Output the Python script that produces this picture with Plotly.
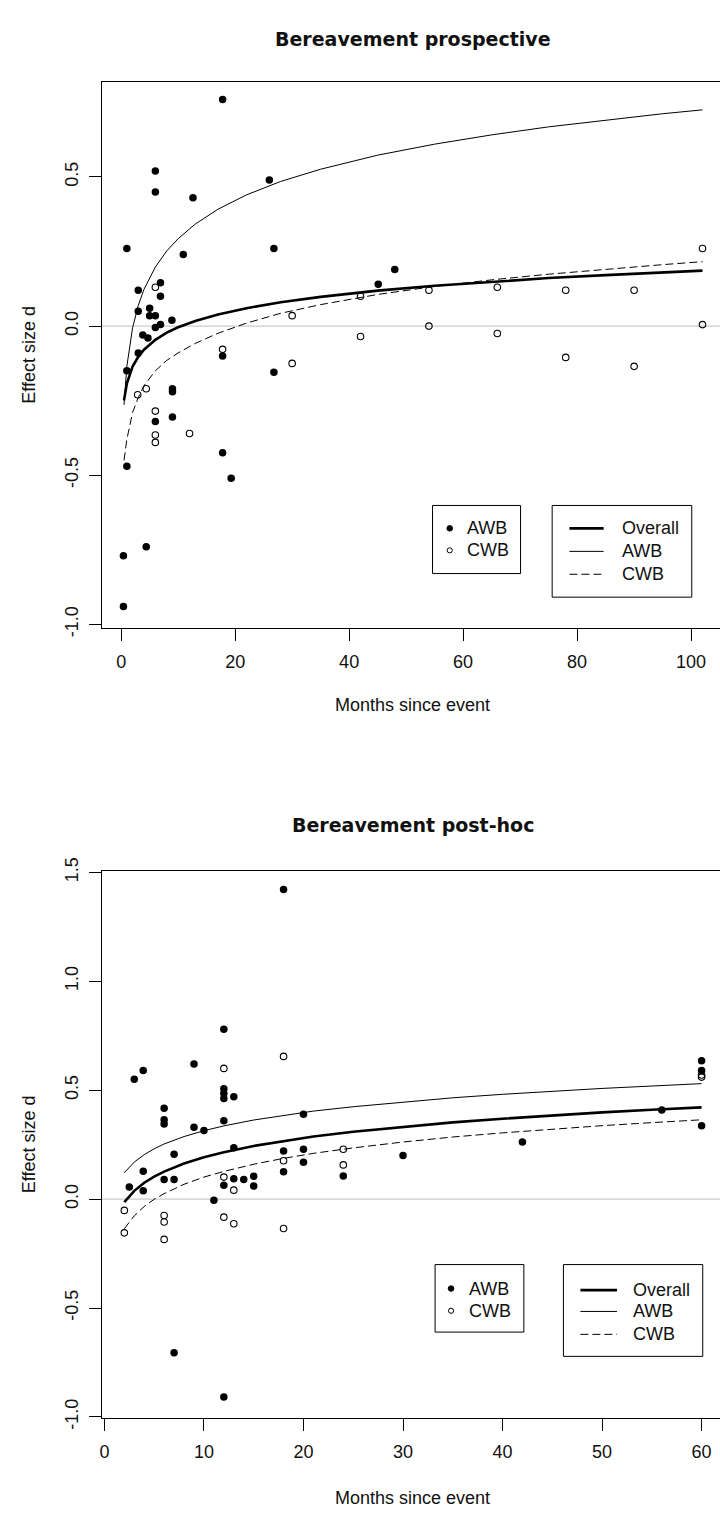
import plotly.graph_objects as go

W, H = 720, 1522

# ---------------- data: panel 1 "Bereavement prospective" ----------------
pro_awb_month = [0.4, 0.4, 1.0, 1.0, 1.0, 3.0, 3.0, 3.0, 3.8, 4.4, 4.7, 5.0, 5.0,
                 6.0, 6.0, 6.0, 6.0, 6.0, 6.9, 6.9, 6.9, 8.9, 9.0, 9.0, 9.0, 10.9,
                 12.6, 17.8, 17.8, 17.8, 19.3, 26.0, 26.8, 26.8, 45.1, 48.0]
pro_awb_d = [-0.77, -0.94, 0.26, -0.15, -0.47, 0.12, 0.05, -0.09, -0.03, -0.74, -0.04, 0.06, 0.035,
             0.52, 0.45, 0.035, -0.005, -0.32, 0.145, 0.10, 0.005, 0.02, -0.21, -0.22, -0.305, 0.24,
             0.43, 0.76, -0.10, -0.425, -0.51, 0.49, 0.26, -0.155, 0.14, 0.19]
pro_cwb_month = [2.9, 4.4, 6.0, 6.0, 6.0, 6.0, 12.0, 17.8, 30, 30, 42, 42, 54, 54,
                 66, 66, 78, 78, 90, 90, 102, 102]
pro_cwb_d = [-0.23, -0.21, 0.13, -0.285, -0.365, -0.39, -0.36, -0.078, 0.035, -0.125, 0.10, -0.035,
             0.12, 0.0, 0.13, -0.025, 0.12, -0.105, 0.12, -0.135, 0.26, 0.005]

pro_fit_month = [0.5, 1, 2, 3, 4, 6, 8, 10, 13, 17, 22, 28, 35, 45, 55, 65, 75, 85, 95, 102]
pro_fit_overall = [-0.249, -0.193, -0.136, -0.103, -0.079, -0.046, -0.022, -0.004, 0.017, 0.039,
                   0.060, 0.080, 0.098, 0.119, 0.135, 0.149, 0.161, 0.171, 0.180, 0.186]
pro_fit_awb = [-0.264, -0.135, -0.006, 0.069, 0.123, 0.198, 0.252, 0.293, 0.342, 0.392,
               0.440, 0.485, 0.526, 0.573, 0.610, 0.641, 0.668, 0.691, 0.712, 0.725]
pro_fit_cwb = [-0.45, -0.38, -0.29, -0.24, -0.20, -0.15, -0.115, -0.09, -0.058, -0.024,
               0.010, 0.043, 0.072, 0.106, 0.133, 0.155, 0.174, 0.191, 0.206, 0.216]

# ---------------- data: panel 2 "Bereavement post-hoc" ----------------
post_awb_month = [2.5, 3, 3.9, 3.9, 3.9, 6, 6, 6, 6, 7, 7, 7, 9, 9, 10, 11,
                  12, 12, 12, 12, 12, 12, 12, 13, 13, 13, 14, 15, 15, 18, 18, 18,
                  20, 20, 20, 24, 30, 42, 56, 60, 60, 60]
post_awb_d = [0.056, 0.55, 0.59, 0.128, 0.038, 0.417, 0.364, 0.345, 0.09, 0.206, 0.09, -0.705,
              0.62, 0.33, 0.315, -0.005, 0.78, 0.507, 0.485, 0.462, 0.36, 0.063, -0.908,
              0.47, 0.236, 0.093, 0.09, 0.105, 0.06, 1.421, 0.221, 0.126, 0.39, 0.229, 0.169,
              0.106, 0.20, 0.262, 0.409, 0.635, 0.59, 0.337]
post_cwb_month = [2, 2, 6, 6, 6, 12, 12, 12, 13, 13, 18, 18, 18, 24, 24, 60, 60]
post_cwb_d = [-0.052, -0.155, -0.075, -0.105, -0.185, 0.60, 0.101, -0.083, 0.041, -0.113,
              0.655, 0.176, -0.135, 0.229, 0.157, 0.57, 0.56]

post_fit_month = [2, 3, 4, 5, 6, 8, 10, 12, 15, 18, 21, 25, 30, 35, 40, 45, 50, 55, 60]
post_fit_overall = [-0.014, 0.038, 0.075, 0.103, 0.126, 0.163, 0.192, 0.215, 0.244, 0.267,
                    0.287, 0.309, 0.332, 0.352, 0.369, 0.384, 0.398, 0.410, 0.421]
post_fit_awb = [0.121, 0.170, 0.204, 0.231, 0.253, 0.287, 0.314, 0.336, 0.363, 0.385,
                0.404, 0.424, 0.446, 0.465, 0.481, 0.495, 0.508, 0.519, 0.530]
post_fit_cwb = [-0.136, -0.077, -0.034, -0.001, 0.025, 0.068, 0.101, 0.127, 0.160, 0.187,
                0.210, 0.235, 0.262, 0.285, 0.304, 0.322, 0.337, 0.351, 0.364]

titles = ["Bereavement prospective", "Bereavement post-hoc"]
xlab = "Months since event"
ylab = "Effect size d"
legend_pts = ["AWB", "CWB"]
legend_lines = ["Overall", "AWB", "CWB"]
pro_xticks = [0, 20, 40, 60, 80, 100]
pro_yticks = [-1.0, -0.5, 0.0, 0.5]
post_xticks = [0, 10, 20, 30, 40, 50, 60]
post_yticks = [-1.0, -0.5, 0.0, 0.5, 1.0, 1.5]

# ---------------- styling / layout helpers ----------------
FONT = "Liberation Sans, Arial, sans-serif"
TXT = "#111111"
DASH = "8px,4px"


def px(x):
    return x / W


def py(y):
    return 1 - y / H


fig = go.Figure()


def add_panel(xa, ya, awb_m, awb_d, cwb_m, cwb_d, fm, fo, fa, fc):
    fig.add_trace(go.Scatter(x=fm, y=fa, mode="lines", xaxis=xa, yaxis=ya,
                             line=dict(color="black", width=1), showlegend=False))
    fig.add_trace(go.Scatter(x=fm, y=fc, mode="lines", xaxis=xa, yaxis=ya,
                             line=dict(color="black", width=1, dash=DASH), showlegend=False))
    fig.add_trace(go.Scatter(x=fm, y=fo, mode="lines", xaxis=xa, yaxis=ya,
                             line=dict(color="black", width=2.6), showlegend=False))
    fig.add_trace(go.Scatter(x=awb_m, y=awb_d, mode="markers", xaxis=xa, yaxis=ya,
                             marker=dict(symbol="circle", size=7.5, color="black",
                                         line=dict(width=0)), showlegend=False))
    fig.add_trace(go.Scatter(x=cwb_m, y=cwb_d, mode="markers", xaxis=xa, yaxis=ya,
                             marker=dict(symbol="circle-open", size=6.5, color="black",
                                         line=dict(width=1.1)), showlegend=False))


add_panel("x", "y", pro_awb_month, pro_awb_d, pro_cwb_month, pro_cwb_d,
          pro_fit_month, pro_fit_overall, pro_fit_awb, pro_fit_cwb)
add_panel("x2", "y2", post_awb_month, post_awb_d, post_cwb_month, post_cwb_d,
          post_fit_month, post_fit_overall, post_fit_awb, post_fit_cwb)

axis_common = dict(showgrid=False, zeroline=False, showline=True, linecolor="black",
                   linewidth=1, ticks="outside", ticklen=12, tickwidth=1, tickcolor="black",
                   tickfont=dict(family=FONT, size=18, color=TXT))


def ylabels(vals):
    return ["%.1f" % v for v in vals]


# panel boxes (pixels): left 100, right beyond the page edge
P1_TOP, P1_BOT = 69.3, 624.3
P2_TOP, P2_BOT = 871.7, 1428.2

fig.update_layout(
    width=W, height=H, margin=dict(l=0, r=0, t=0, b=0),
    paper_bgcolor="white", plot_bgcolor="white",
    xaxis=dict(domain=[px(100), 1], range=[-3.41, 105.07], tickvals=pro_xticks,
               ticktext=[str(v) for v in pro_xticks], mirror=True, anchor="y",
               ticklabelstandoff=6, **axis_common),
    yaxis=dict(domain=[py(P1_BOT), py(P1_TOP)], range=[-1.011, 0.818], tickvals=pro_yticks,
               ticktext=ylabels(pro_yticks), tickangle=-90, anchor="x",
               ticklabelstandoff=4, **axis_common),
    xaxis2=dict(domain=[px(100), 1], range=[-0.27, 61.85], tickvals=post_xticks,
                ticktext=[str(v) for v in post_xticks], mirror=True, anchor="y2",
                ticklabelstandoff=6, **axis_common),
    yaxis2=dict(domain=[py(P2_BOT), py(P2_TOP)], range=[-1.004, 1.507], tickvals=post_yticks,
                ticktext=ylabels(post_yticks), tickangle=-90, anchor="x2",
                ticklabelstandoff=4, **axis_common),
)

shapes = []
annotations = []

# grey reference line at d = 0
for xr, yr in (("x domain", "y"), ("x2 domain", "y2")):
    shapes.append(dict(type="line", xref=xr, yref=yr, x0=0, x1=1, y0=0, y1=0,
                       line=dict(color="#BEBEBE", width=1), layer="below"))


def text(x, y, s, size=18, anchor="center", bold=False, angle=0, family=FONT):
    annotations.append(dict(xref="paper", yref="paper", x=px(x), y=py(y), text=s,
                            showarrow=False, xanchor=anchor, yanchor="middle",
                            textangle=angle,
                            font=dict(family=family, size=size, color=TXT,
                                      weight="bold" if bold else "normal")))


# titles and axis titles
text(412, 25, titles[0], size=19, bold=True, family="DejaVu Sans, Verdana, sans-serif")
text(412, 825, titles[1], size=19, bold=True, family="DejaVu Sans, Verdana, sans-serif")
text(412, 703, xlab)
text(412, 1510, xlab)
text(27, (P1_TOP + P1_BOT) / 2, ylab, angle=-90)
text(27, (P2_TOP + P2_BOT) / 2, ylab, angle=-90)


def legend_points(x0, x1, y0, y1, dotx, rows, textx):
    shapes.append(dict(type="rect", xref="paper", yref="paper", x0=px(x0), x1=px(x1),
                       y0=py(y1), y1=py(y0), line=dict(color="black", width=1)))
    r = 2.8
    shapes.append(dict(type="circle", xref="paper", yref="paper",
                       x0=px(dotx - r), x1=px(dotx + r), y0=py(rows[0] + r), y1=py(rows[0] - r),
                       fillcolor="black", line=dict(color="black", width=1)))
    r = 2.6
    shapes.append(dict(type="circle", xref="paper", yref="paper",
                       x0=px(dotx - r), x1=px(dotx + r), y0=py(rows[1] + r), y1=py(rows[1] - r),
                       line=dict(color="black", width=1)))
    for lab, yy in zip(legend_pts, rows):
        text(textx, yy, lab, anchor="left")


def legend_lines_box(x0, x1, y0, y1, lx0, lx1, rows, textx):
    shapes.append(dict(type="rect", xref="paper", yref="paper", x0=px(x0), x1=px(x1),
                       y0=py(y1), y1=py(y0), line=dict(color="black", width=1)))
    styles = [dict(width=2.6), dict(width=1), dict(width=1, dash=DASH)]
    for st, yy in zip(styles, rows):
        shapes.append(dict(type="line", xref="paper", yref="paper", x0=px(lx0), x1=px(lx1),
                           y0=py(yy), y1=py(yy), line=dict(color="black", **st)))
    for lab, yy in zip(legend_lines, rows):
        text(textx, yy, lab, anchor="left")


legend_points(431.7, 520, 500, 569.3, 449, [523.3, 545.7], 464)
legend_lines_box(551.7, 691.7, 500, 593.3, 569, 603.3, [523.3, 546.7, 570], 620)
legend_points(434.3, 523.3, 1272.3, 1341, 450.3, [1296.7, 1319.3], 466)
legend_lines_box(563, 702.7, 1272.3, 1365.7, 580, 616.7, [1298.3, 1320, 1343.3], 631)

fig.update_layout(shapes=shapes, annotations=annotations)

fig.write_html("out.html")
